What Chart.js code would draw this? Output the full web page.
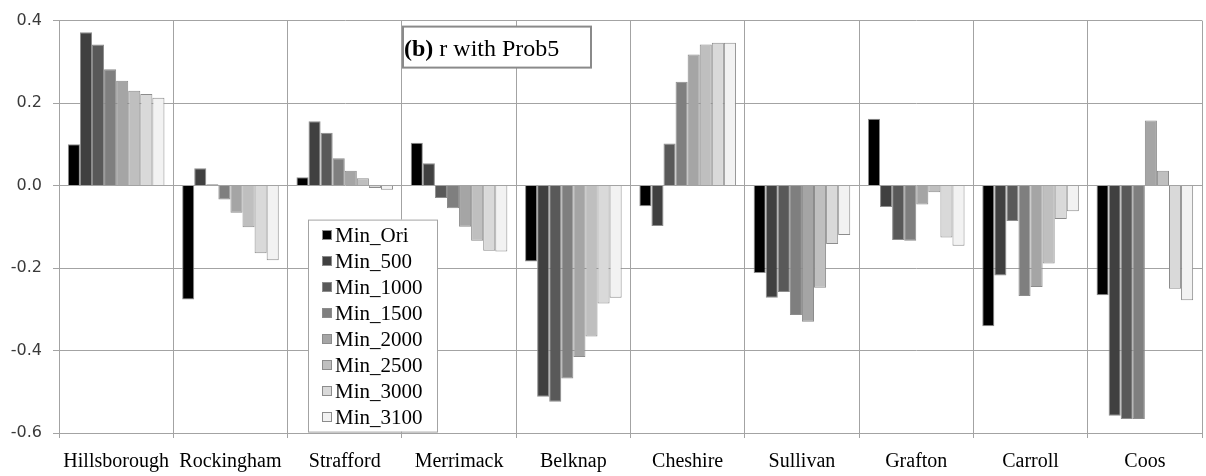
<!DOCTYPE html>
<html lang="en">
<head>
  <meta charset="UTF-8">
  <title>r with Prob5</title>
  <script src="https://cdn.jsdelivr.net/npm/chart.js"></script>
  <style>
    html, body { margin: 0; padding: 0; background: #fff; }
    #wrap { width: 1206px; height: 476px; }
  </style>
</head>
<body>
  <div id="wrap"><canvas id="corrChart"></canvas></div>

  <script>
    // Counties along the x axis
    const counties = ['Hillsborough', 'Rockingham', 'Strafford', 'Merrimack', 'Belknap',
                      'Cheshire', 'Sullivan', 'Grafton', 'Carroll', 'Coos'];

    // Correlation r per county for each minimum setting
    const minOri  = [0.100, -0.276,  0.020,  0.104, -0.184, -0.050, -0.212,  0.162, -0.341, -0.266];
    const min500  = [0.372,  0.042,  0.156,  0.054, -0.512, -0.098, -0.272, -0.052, -0.218, -0.558];
    const min1000 = [0.342,  0.003,  0.128, -0.030, -0.524,  0.102, -0.258, -0.132, -0.086, -0.566];
    const min1500 = [0.282, -0.034,  0.066, -0.055, -0.468,  0.252, -0.314, -0.134, -0.268, -0.566];
    const min2000 = [0.254, -0.066,  0.036, -0.100, -0.416,  0.318, -0.330, -0.046, -0.246,  0.158];
    const min2500 = [0.230, -0.101,  0.018, -0.134, -0.366,  0.342, -0.248, -0.016, -0.189,  0.036];
    const min3000 = [0.222, -0.164, -0.006, -0.158, -0.286,  0.346, -0.142, -0.126, -0.081, -0.250];
    const min3100 = [0.213, -0.181, -0.010, -0.160, -0.272,  0.346, -0.120, -0.146, -0.062, -0.278];

    const seriesNames = ['Min_Ori', 'Min_500', 'Min_1000', 'Min_1500',
                         'Min_2000', 'Min_2500', 'Min_3000', 'Min_3100'];
    const seriesValues = [minOri, min500, min1000, min1500, min2000, min2500, min3000, min3100];
    const seriesColors = ['#000000', '#404040', '#595959', '#7f7f7f',
                          '#a5a5a5', '#bfbfbf', '#d9d9d9', '#f2f2f2'];

    const yTicks = [-0.6, -0.4, -0.2, 0.0, 0.2, 0.4];

    const GRID = '#a3a3a3';
    const SERIF = '"Liberation Serif", "Times New Roman", serif';

    // Boxed legend drawn inside the plot area
    const legendBox = {
      id: 'legendBox',
      afterDraw(chart) {
        const { ctx, chartArea } = chart;
        const x = chartArea.left + 249;
        const y = chartArea.top + 199;
        const w = 129, h = 212;
        ctx.save();
        ctx.fillStyle = '#fff';
        ctx.fillRect(x, y, w, h);
        ctx.strokeStyle = GRID;
        ctx.lineWidth = 1;
        ctx.strokeRect(x + 0.5, y + 0.5, w, h);
        ctx.font = '21px ' + SERIF;
        ctx.textBaseline = 'middle';
        chart.data.datasets.forEach((ds, i) => {
          const cy = Math.round(y + 15 + i * 26.1);
          ctx.fillStyle = ds.backgroundColor;
          ctx.fillRect(x + 14, cy - 5, 10, 10);
          ctx.strokeStyle = '#8c8c8c';
          ctx.strokeRect(x + 14.5, cy - 4.5, 9, 9);
          ctx.fillStyle = '#000';
          ctx.fillText(ds.label, x + 27, cy + 1);
        });
        ctx.restore();
      }
    };

    // Panel caption box
    const captionBox = {
      id: 'captionBox',
      afterDraw(chart) {
        const { ctx, chartArea } = chart;
        const x = chartArea.left + 344;
        const y = chartArea.top + 6;
        ctx.save();
        ctx.fillStyle = '#fff';
        ctx.fillRect(x, y, 188, 41);
        ctx.strokeStyle = '#8a8a8a';
        ctx.lineWidth = 2;
        ctx.strokeRect(x, y, 188, 41);
        ctx.fillStyle = '#000';
        ctx.textBaseline = 'alphabetic';
        ctx.font = 'bold 24px ' + SERIF;
        ctx.fillText('(b)', x + 1, y + 29);
        const bw = ctx.measureText('(b)').width;
        ctx.font = '24px ' + SERIF;
        ctx.fillText(' r with Prob5', x + 1 + bw, y + 29);
        ctx.restore();
      }
    };

    new Chart(document.getElementById('corrChart'), {
      type: 'bar',
      data: {
        labels: counties,
        datasets: seriesNames.map((name, i) => ({
          label: name,
          data: seriesValues[i],
          backgroundColor: seriesColors[i],
          borderColor: '#8c8c8c',
          borderWidth: 1,
          categoryPercentage: 0.845,
          barPercentage: 1.0
        }))
      },
      options: {
        responsive: true,
        maintainAspectRatio: false,
        animation: false,
        layout: { padding: { top: 17, right: 4, left: 0, bottom: 0 } },
        plugins: {
          legend: { display: false },
          tooltip: { enabled: false }
        },
        scales: {
          x: {
            grid: { color: GRID, lineWidth: 1, offset: true, tickLength: 5 },
            border: { color: GRID },
            ticks: {
              color: '#000',
              font: { family: SERIF, size: 20 },
              padding: 12,
              maxRotation: 0,
              autoSkip: false
            },
            afterFit(scale) { scale.height = 43; }
          },
          y: {
            min: -0.6,
            max: 0.4,
            afterBuildTicks(scale) { scale.ticks = yTicks.map(v => ({ value: v })); },
            grid: { color: GRID, lineWidth: 1, tickLength: 6 },
            border: { color: GRID },
            ticks: {
              color: '#3a3a3a',
              font: { family: '"DejaVu Sans", sans-serif', size: 16 },
              padding: 11,
              callback: v => (Math.abs(v) < 1e-9 ? 0 : v).toFixed(1)
            },
            afterFit(scale) { scale.width = 59; }
          }
        }
      },
      plugins: [legendBox, captionBox]
    });
  </script>
</body>
</html>
